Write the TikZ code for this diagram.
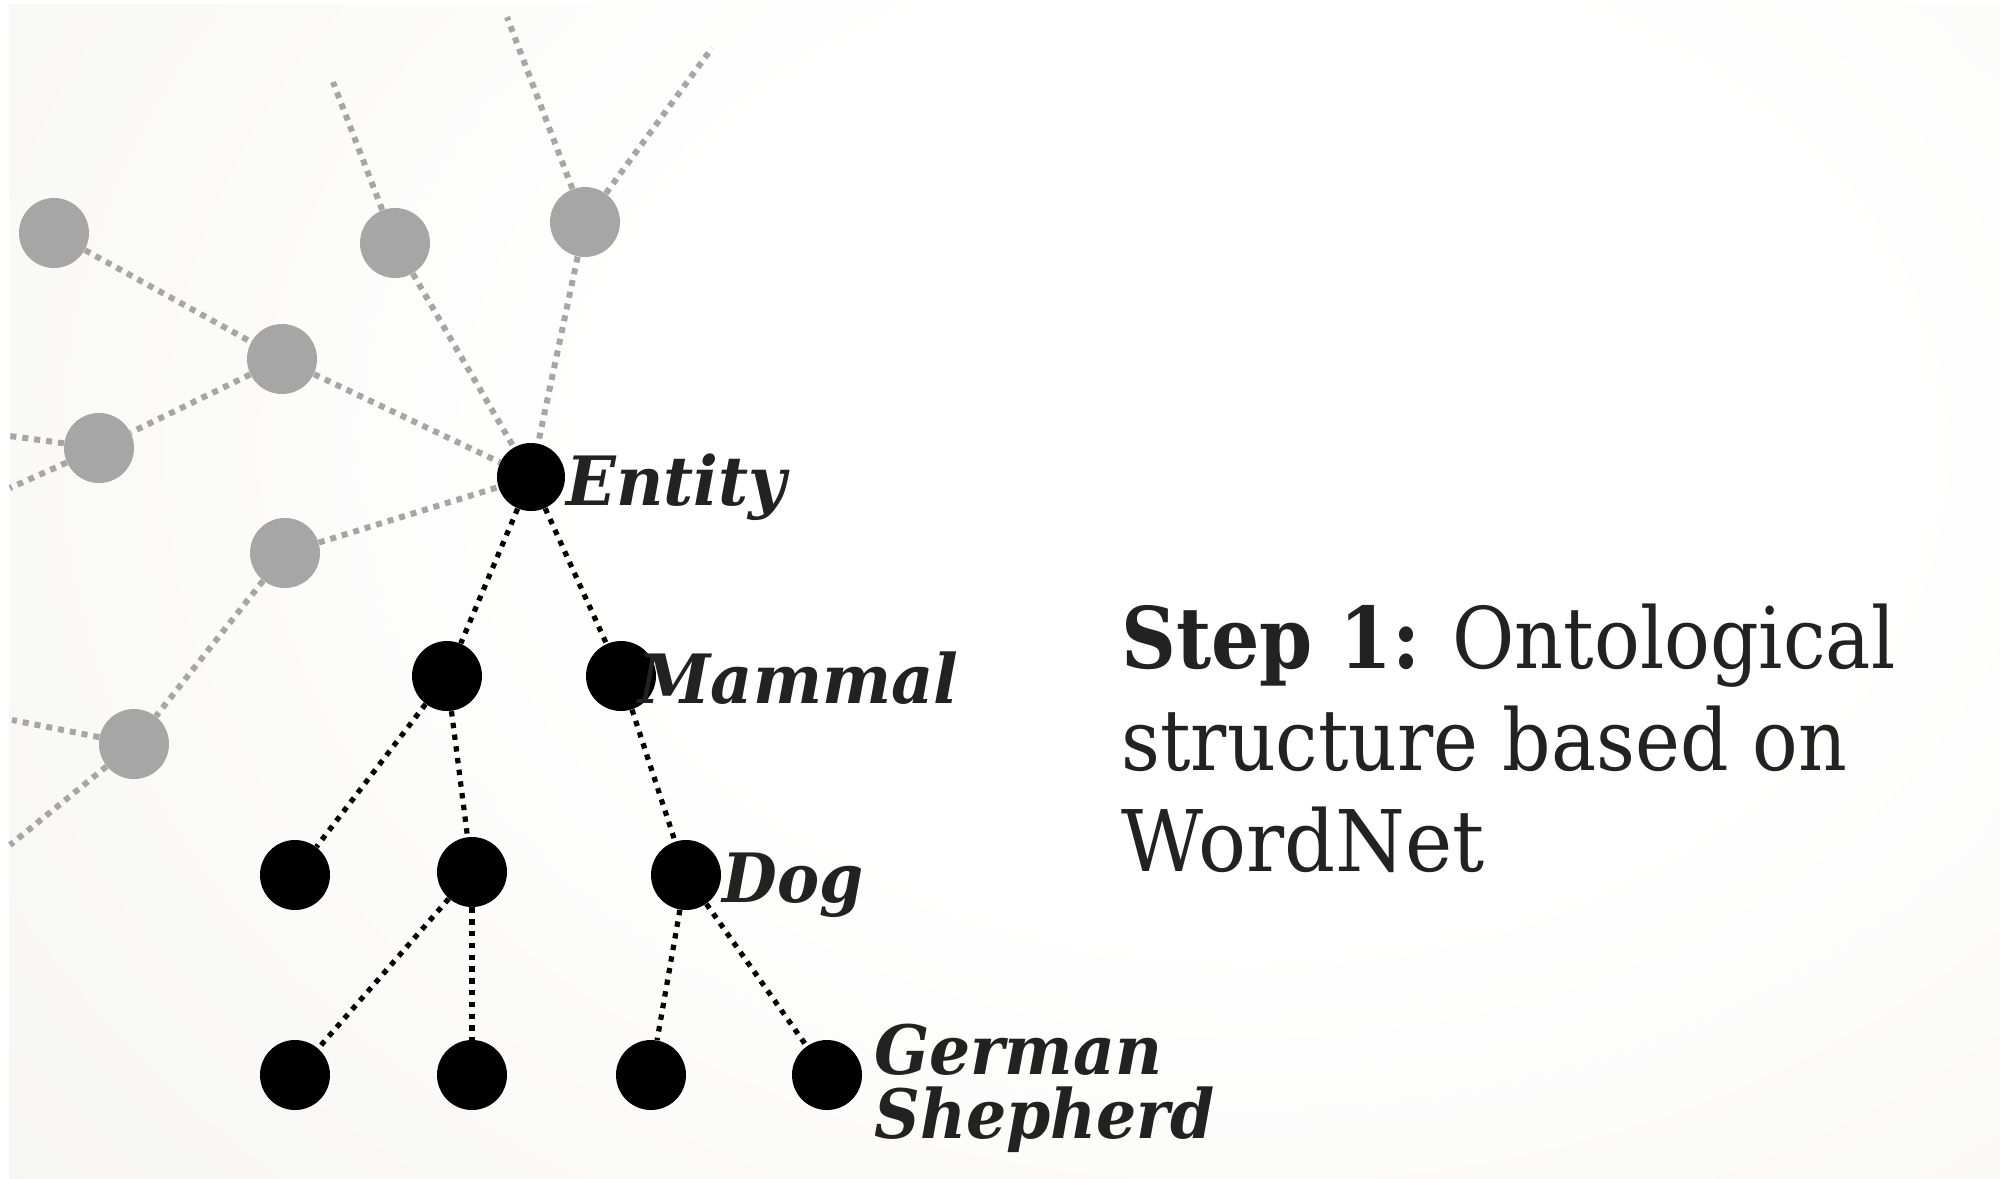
\documentclass[tikz,border=0pt]{standalone}
\usepackage{fontspec}
\setmainfont{DejaVu Serif}
\usepackage{graphicx}
\definecolor{bgc}{HTML}{EBEAE4}
\definecolor{nodegray}{HTML}{A6A6A6}
\definecolor{txt}{HTML}{222222}
\newsavebox\fitbox
\newcommand\fitx[2]{\sbox\fitbox{#2}\pgfmathsetmacro\fitsx{#1/\wd\fitbox}\scalebox{\fitsx}[1]{\usebox\fitbox}}
\pgfdeclareradialshading{bgshade}{\pgfpoint{0bp}{0bp}}{color(0bp)=(white); color(12bp)=(white); color(50bp)=(bgc)}
\begin{document}
\begin{tikzpicture}[x=0.5pt,y=-0.5pt,
  gnode/.style={circle,fill=nodegray,minimum size=35pt,inner sep=0pt},
  bnode/.style={circle,fill=black,minimum size=35pt,inner sep=0pt},
  gline/.style={draw=nodegray,line width=3pt,dash pattern=on 3pt off 3pt},
  bline/.style={draw=black,line width=2.6pt,dash pattern=on 2.7pt off 3.2pt},
  lbl/.style={anchor=base west,inner sep=0pt,text=txt,font=\fontsize{34}{36}\selectfont\bfseries\itshape},
  big/.style={anchor=base west,inner sep=0pt,text=txt,font=\fontsize{42.5}{46}\selectfont}]
\useasboundingbox (0,0) rectangle (2000,1178);
\fill[white] (0,0) rectangle (2000,1178);
\begin{scope}
\clip (9,4) rectangle (2000,1178);
\shade[shading=bgshade] (1250-1350,450-1000) rectangle (1250+1350,450+1000);
\end{scope}
% gray nodes
\node[gnode] (g1) at (54,233) {};
\node[gnode] (g2) at (395,243) {};
\node[gnode] (g3) at (585,222) {};
\node[gnode] (g4) at (282,359) {};
\node[gnode] (g5) at (99,448) {};
\node[gnode] (g6) at (285,553) {};
\node[gnode] (g7) at (134,744) {};
\coordinate (e2) at (333,82);
\coordinate (e3a) at (507,17);
\coordinate (e3b) at (712,48);
\coordinate (e5a) at (10,436);
\coordinate (e5b) at (10,488);
\coordinate (e7a) at (12,720);
\coordinate (e7b) at (10,845);
% black nodes
\node[bnode,minimum size=34pt] (ent) at (531,477) {};
\node[bnode] (a) at (447,676) {};
\node[bnode] (mam) at (621,676) {};
\node[bnode] (b1) at (295,875) {};
\node[bnode] (b2) at (472,872) {};
\node[bnode] (dog) at (686,875) {};
\node[bnode] (c1) at (295,1075) {};
\node[bnode] (c2) at (472,1075) {};
\node[bnode] (c3) at (651,1075) {};
\node[bnode] (gs) at (827,1075) {};
% gray connectors
\draw[gline] (g2) -- (e2);
\draw[gline] (g3) -- (e3a);
\draw[gline] (g3) -- (e3b);
\draw[gline] (g1) -- (g4);
\draw[gline] (g4) -- (g5);
\draw[gline] (g5) -- (e5a);
\draw[gline] (g5) -- (e5b);
\draw[gline] (g4) -- (ent);
\draw[gline] (g2) -- (ent);
\draw[gline] (g3) -- (ent);
\draw[gline] (g6) -- (ent);
\draw[gline] (g6) -- (g7);
\draw[gline] (g7) -- (e7a);
\draw[gline] (g7) -- (e7b);
% black connectors
\draw[bline] (ent) -- (a);
\draw[bline] (ent) -- (mam);
\draw[bline] (a) -- (b1);
\draw[bline] (a) -- (b2);
\draw[bline] (mam) -- (dog);
\draw[bline] (b2) -- (c1);
\draw[bline] (b2) -- (c2);
\draw[bline] (dog) -- (c3);
\draw[bline] (dog) -- (gs);
% labels
\node[lbl] (tent) at (566,505) {\fitx{110}{Entity}};
\node[lbl] (tmam) at (638,703) {\fitx{160}{Mammal}};
\node[lbl] (tdog) at (722,902) {\fitx{70.5}{Dog}};
\node[lbl] (tger) at (874,1074) {\fitx{144}{German}};
\node[lbl] (tshe) at (874,1138) {\fitx{170}{Shepherd}};
% right text
\node[big] (s1) at (1121,668) {\fitx{387}{\textbf{Step 1:} Ontological}};
\node[big] (s2) at (1121,770) {\fitx{363}{structure based on}};
\node[big] (s3) at (1121,871) {\fitx{181.5}{WordNet}};
\end{tikzpicture}
\end{document}
